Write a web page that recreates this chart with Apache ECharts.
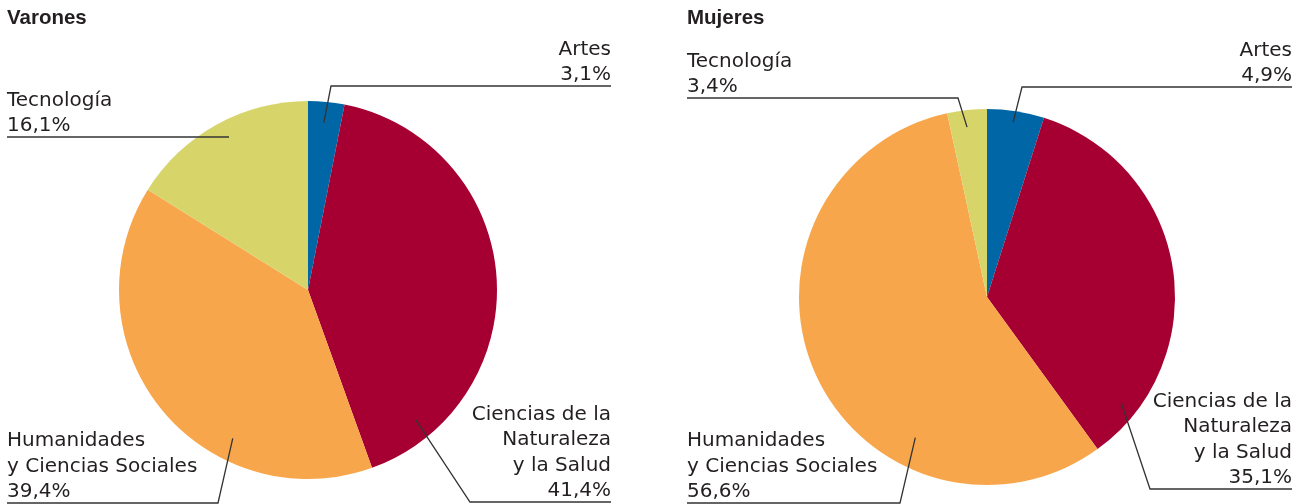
<!DOCTYPE html>
<html>
<head>
<meta charset="utf-8">
<script src="https://cdn.jsdelivr.net/npm/echarts@6/dist/echarts.min.js"></script>
<style>
html, body {margin: 0; padding: 0; background: #fff}
#main {width: 1302px; height: 504px}
</style>
</head>
<body>
<div id="main"></div>
<script>
// 数据
const categories = ['Artes', 'Ciencias de la\nNaturaleza\ny la Salud', 'Humanidades\ny Ciencias Sociales', 'Tecnología']
const varonesValues = [3.1, 41.4, 39.4, 16.1]
const mujeresValues = [4.9, 35.1, 56.6, 3.4]
const groupTitles = ['Varones', 'Mujeres']
const sliceColors = ['#0066a6', '#a60033', '#f8a64b', '#d7d56a']

// 饼图位置
const pies = [
  {center: [308, 290], radius: 189, titleX: 7},
  {center: [987, 297], radius: 188, titleX: 687}
]
// 标签位置：x 对齐点，下划线 y，折点 x，引线起点(角度, 半径比例)
const labelPos = [
  [
    {x: 611, align: 'right', lineY: 86, elbowX: 331, ang: 5.4, r: 0.89},
    {x: 611, align: 'right', lineY: 502, elbowX: 470, ang: 140.3, r: 0.89},
    {x: 7, align: 'left', lineY: 503, elbowX: 218, ang: 206.9, r: 0.88},
    {x: 7, align: 'left', lineY: 137, elbowX: 229, ang: null}
  ],
  [
    {x: 1292, align: 'right', lineY: 87, elbowX: 1022, ang: 8.5, r: 0.94},
    {x: 1292, align: 'right', lineY: 489, elbowX: 1150, ang: 128.3, r: 0.91},
    {x: 687, align: 'left', lineY: 503, elbowX: 900, ang: 207, r: 0.84},
    {x: 687, align: 'left', lineY: 98, elbowX: 958, ang: 353.3, r: 0.91}
  ]
]

const fmt = v => v.toFixed(1).replace('.', ',') + '%'

const pieData = (values, transparent) => categories.map((name, i) => ({
  name: name,
  value: values[i],
  itemStyle: {color: transparent ? 'rgba(0,0,0,0)' : sliceColors[i]}
}))

// 扇区
const makeSlices = (values, k) => ({
  type: 'pie',
  center: pies[k].center,
  radius: pies[k].radius,
  startAngle: 90,
  clockwise: true,
  silent: true,
  z: 2,
  itemStyle: {borderWidth: 0},
  label: {show: false},
  labelLine: {show: false},
  data: pieData(values, false)
})

// 标签和引线（透明叠加层，保证引线画在扇区上面）
const makeLabels = (values, k) => {
  const pie = pies[k]
  return {
    type: 'pie',
    center: pie.center,
    radius: pie.radius,
    startAngle: 90,
    clockwise: true,
    avoidLabelOverlap: false,
    silent: true,
    z: 5,
    itemStyle: {borderWidth: 0},
    label: {
      show: true,
      position: 'outside',
      color: '#231f20',
      fontFamily: 'DejaVu Sans',
      fontSize: 20,
      lineHeight: 25.5,
      formatter: p => p.name + '\n' + fmt(p.value)
    },
    labelLine: {
      show: true,
      length: 10,
      length2: 10,
      lineStyle: {color: '#333', width: 1.3}
    },
    labelLayout: params => {
      const p = labelPos[k][params.dataIndex]
      const [cx, cy] = pie.center
      let start = [p.elbowX, p.lineY]
      if (p.ang != null) {
        const a = p.ang * Math.PI / 180
        start = [cx + Math.sin(a) * pie.radius * p.r, cy - Math.cos(a) * pie.radius * p.r]
      }
      return {
        x: p.x,
        y: p.lineY + 2,
        align: p.align,
        verticalAlign: 'bottom',
        labelLinePoints: [start, [p.elbowX, p.lineY], [p.x, p.lineY]]
      }
    },
    data: pieData(values, true)
  }
}

let myChart = echarts.init(document.getElementById('main'))
let option = {
  animation: false,
  backgroundColor: '#fff',
  title: groupTitles.map((t, k) => ({
    text: t,
    left: pies[k].titleX,
    top: 8,
    padding: 0,
    textStyle: {fontFamily: 'Liberation Sans', fontWeight: 'bold', fontSize: 20.5, color: '#231f20'}
  })),
  series: [
    makeSlices(varonesValues, 0), makeSlices(mujeresValues, 1),
    makeLabels(varonesValues, 0), makeLabels(mujeresValues, 1)
  ]
}
myChart.setOption(option)
</script>
</body>
</html>
